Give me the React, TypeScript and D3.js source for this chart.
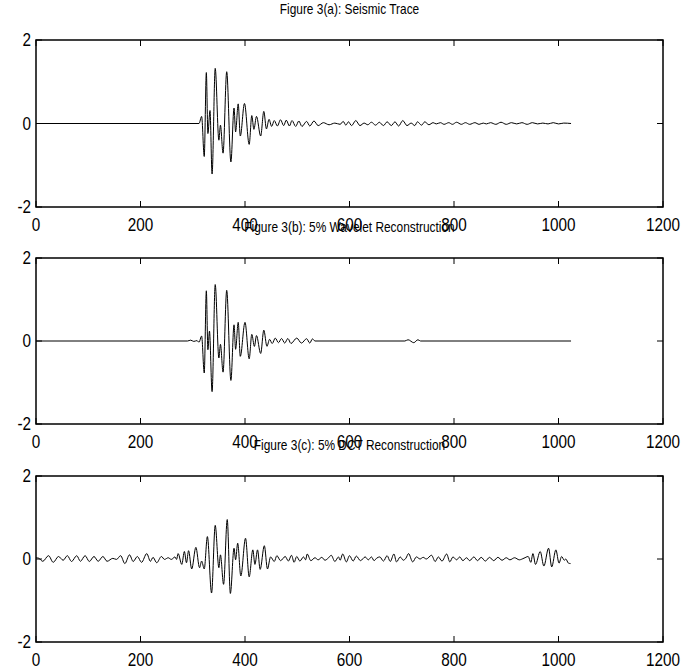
import React from "react";
import * as d3 from "d3";

// ---------- data (sample index, amplitude) ----------
const xTicks = [0, 200, 400, 600, 800, 1000, 1200];
const yTicks = [-2, 0, 2];
const titles = [
  "Figure 3(a): Seismic Trace",
  "Figure 3(b): 5% Wavelet Reconstruction",
  "Figure 3(c): 5% DCT Reconstruction",
];

const seismicTrace: [number, number][] = [
  [0, 0], [312, 0], [317, 0.17], [322, -0.79], [326, 1.22], [329, -0.24], [333, 0.31],
  [337, -1.21], [343, 1.32], [350, -0.4], [353, -0.04], [358, -0.71], [365, 1.24],
  [373, -0.92], [379, 0.37], [382, -0.2], [387, 0.47], [391, -0.3], [399, 0.48],
  [408, -0.5], [413, 0.19], [417, -0.14], [422, 0.17], [430, -0.3], [436, 0.29],
  [441, -0.13], [446, 0.1], [451, -0.07], [456, 0.07], [462, -0.06], [468, 0.09],
  [474, -0.05], [479, 0.08], [485, -0.06], [490, 0.07], [497, -0.07], [503, 0.06],
  [509, -0.07], [518, 0.05], [524, -0.06], [532, 0.06], [540, -0.05], [550, 0.02],
  [561, -0.03], [572, 0.01], [582, -0.02], [588, 0.05], [593, -0.04], [598, 0.04],
  [604, -0.05], [612, 0.07], [620, -0.05], [628, 0.01], [635, -0.03], [642, 0.03],
  [650, -0.04], [657, 0.03], [665, -0.05], [672, 0.04], [680, -0.05], [687, 0.04],
  [694, -0.06], [702, 0.07], [710, -0.05], [718, 0.01], [725, -0.05], [730, 0.04],
  [738, -0.04], [744, 0.04], [752, -0.03], [760, 0.02], [766, -0.01], [774, 0.02],
  [781, -0.02], [790, 0.02], [797, -0.02], [805, 0.03], [814, -0.02], [822, 0.02],
  [830, -0.02], [840, 0.02], [848, -0.02], [856, 0.01], [862, -0.01], [870, 0.02],
  [880, -0.02], [890, 0.03], [900, -0.02], [910, 0.02], [920, -0.01], [930, 0.02],
  [940, -0.02], [950, 0.02], [960, -0.01], [970, 0.01], [980, -0.01], [990, 0.02],
  [1000, -0.01], [1010, 0.01], [1024, 0],
];

const waveletRecon: [number, number][] = [
  [0, 0], [290, 0], [296, 0.02], [302, -0.01], [308, 0.01], [312, -0.03], [317, 0.12],
  [322, -0.77], [326, 1.21], [329, -0.21], [332, 0.24], [337, -1.22], [343, 1.36],
  [350, -0.41], [353, -0.08], [358, -0.75], [365, 1.22], [373, -0.95], [379, 0.39],
  [382, -0.2], [387, 0.45], [391, -0.37], [400, 0.45], [408, -0.43], [413, 0.16],
  [418, -0.13], [422, 0.13], [430, -0.3], [436, 0.26], [442, -0.13], [447, 0.04],
  [452, -0.06], [458, 0.07], [464, -0.04], [470, 0.06], [476, -0.05], [482, 0.06],
  [488, -0.06], [499, 0.07], [508, -0.05], [518, 0.055], [524, -0.05], [529, 0.05],
  [534, 0], [706, 0], [712, 0.03], [723, -0.04], [731, 0.03], [736, 0], [1024, 0],
];

const dctRecon: [number, number][] = [
  [0, 0.03], [5, 0.02], [13, -0.055], [24, 0.08], [33, -0.08], [43, 0.06], [52, -0.03],
  [60, 0.08], [68, -0.06], [78, 0.08], [85, -0.055], [94, 0.08], [102, -0.06],
  [111, 0.06], [119, -0.055], [128, 0.06], [136, -0.055], [147, 0.015], [154, -0.01],
  [162, 0.08], [170, -0.11], [179, 0.1], [186, -0.06], [194, 0.06], [202, -0.08],
  [212, 0.13], [219, -0.055], [224, 0.04], [231, -0.09], [240, 0.06], [246, -0.01],
  [253, 0.03], [259, -0.01], [266, 0.05], [269, -0.01], [272, 0.13], [279, -0.13],
  [284, 0.18], [288, -0.09], [292, 0.2], [298, -0.24], [306, 0.28], [313, -0.21],
  [317, -0.05], [322, -0.24], [328, 0.54], [336, -0.82], [343, 0.81], [350, -0.21],
  [353, 0.1], [359, -0.61], [366, 0.95], [372, -0.83], [379, 0.26], [382, -0.02],
  [386, 0.38], [392, -0.41], [401, 0.5], [408, -0.43], [415, 0.22], [419, -0.13],
  [424, 0.22], [429, -0.25], [437, 0.32], [443, -0.24], [449, 0.05], [456, -0.06],
  [461, 0.08], [468, -0.04], [477, 0.06], [483, -0.05], [489, 0.09], [494, -0.08],
  [499, 0.06], [505, -0.05], [512, 0.05], [516, -0.02], [519, 0.12], [526, -0.04],
  [534, 0.03], [540, -0.02], [547, 0.04], [553, -0.03], [560, 0.03], [565, 0.09],
  [572, -0.06], [579, 0.05], [582, -0.03], [587, 0.12], [594, -0.07], [600, 0.08],
  [607, -0.05], [613, 0.07], [621, -0.04], [630, 0.05], [636, -0.02], [642, 0.05],
  [647, -0.04], [652, 0.02], [658, 0.05], [665, -0.05], [672, 0.08], [678, -0.06],
  [685, 0.12], [690, -0.07], [697, 0.05], [703, -0.03], [708, 0.02], [713, 0.13],
  [721, -0.07], [728, 0.05], [735, 0.0], [741, 0.04], [747, 0.0], [757, 0.09],
  [764, -0.06], [770, 0.05], [777, -0.05], [786, 0.12], [792, -0.07], [798, 0.05],
  [805, -0.02], [811, 0.05], [817, -0.04], [824, 0.03], [830, -0.04], [838, 0.05],
  [845, -0.04], [852, 0.04], [860, -0.05], [868, 0.04], [876, -0.04], [884, 0.04],
  [892, -0.03], [900, 0.03], [907, -0.02], [916, 0.03], [925, -0.02], [934, 0.02],
  [942, 0.06], [947, -0.08], [951, 0.13], [956, -0.13], [965, 0.18], [972, -0.17],
  [981, 0.26], [987, -0.19], [995, 0.22], [1001, -0.1], [1006, 0.06], [1011, -0.03],
  [1014, 0.0], [1019, -0.1], [1023, -0.11],
];

const series = [seismicTrace, waveletRecon, dctRecon];

// ---------- layout ----------
const W = 681;
const H = 668;
const left = 36;
const right = 663;
const panels = [
  { top: 40, bottom: 207 },
  { top: 258, bottom: 424 },
  { top: 476, bottom: 642 },
];
const FONT = "'Liberation Sans', Arial, Helvetica, sans-serif";
const TICK = 6;

function Panel({ idx }: { idx: number }) {
  const { top, bottom } = panels[idx];
  const x = d3.scaleLinear().domain([0, 1200]).range([left, right]);
  const y = d3.scaleLinear().domain([-2, 2]).range([bottom, top]);
  const line = d3
    .line<[number, number]>()
    .x((d) => x(d[0]))
    .y((d) => y(d[1]))
    .curve(d3.curveMonotoneX);
  const cx = (left + right) / 2;
  return (
    <g>
      <text
        transform={`translate(${cx},${top - 26}) scale(0.85,1)`}
        textAnchor="middle"
        fontFamily={FONT}
        fontSize={14}
        fill="#000"
      >
        {titles[idx]}
      </text>
      <path d={line(series[idx]) || ""} fill="none" stroke="#000" strokeWidth={1} />
      <rect
        x={left}
        y={top}
        width={right - left}
        height={bottom - top}
        fill="none"
        stroke="#000"
        strokeWidth={1.5}
      />
      {xTicks.map((t) => (
        <g key={"x" + t}>
          <line x1={x(t)} x2={x(t)} y1={bottom} y2={bottom - TICK} stroke="#000" strokeWidth={1} />
          <line x1={x(t)} x2={x(t)} y1={top} y2={top + TICK} stroke="#000" strokeWidth={1} />
          <text
            transform={`translate(${x(t)},${bottom + 24}) scale(0.85,1)`}
            textAnchor="middle"
            fontFamily={FONT}
            fontSize={18}
            fill="#000"
          >
            {t}
          </text>
        </g>
      ))}
      {yTicks.map((t) => (
        <g key={"y" + t}>
          <line x1={left} x2={left + TICK} y1={y(t)} y2={y(t)} stroke="#000" strokeWidth={1} />
          <line x1={right} x2={right - TICK} y1={y(t)} y2={y(t)} stroke="#000" strokeWidth={1} />
          <text
            transform={`translate(${left - 5},${y(t) + 6}) scale(0.85,1)`}
            textAnchor="end"
            fontFamily={FONT}
            fontSize={18}
            fill="#000"
          >
            {t}
          </text>
        </g>
      ))}
    </g>
  );
}

export default function App() {
  return (
    <svg
      width={W}
      height={H}
      style={{ position: "absolute", left: 0, top: 0, background: "#fff" }}
    >
      <rect width={W} height={H} fill="#fff" />
      {panels.map((_, i) => (
        <Panel key={i} idx={i} />
      ))}
    </svg>
  );
}
